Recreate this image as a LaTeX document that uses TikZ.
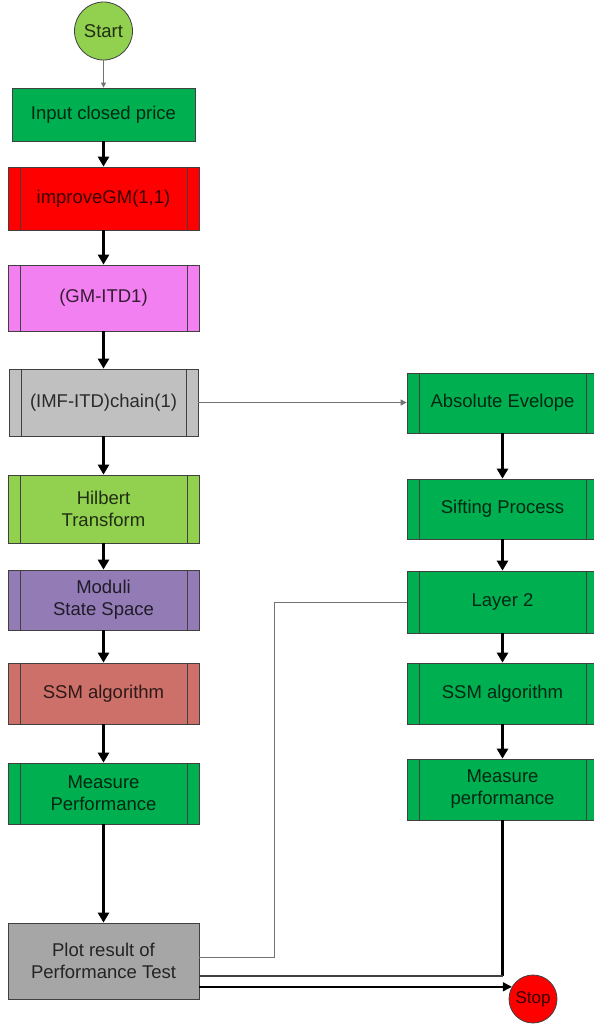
\documentclass[tikz,border=0pt]{standalone}
\usepackage{fontspec}
\setmainfont{Liberation Sans}
\usetikzlibrary{arrows.meta}
\definecolor{cgreen}{HTML}{00B050}
\definecolor{cred}{HTML}{FF0000}
\definecolor{cpink}{HTML}{F280F0}
\definecolor{cgray}{HTML}{C0C0C0}
\definecolor{clgreen}{HTML}{92D050}
\definecolor{cpurple}{HTML}{937CB5}
\definecolor{cssm}{HTML}{CD706A}
\definecolor{cplot}{HTML}{A6A6A6}
\tikzset{
  base/.style={draw=black!75, line width=0.8pt, minimum width=191pt, align=center,
    font=\fontsize{18.5}{22}\selectfont, inner sep=0pt, fill=#1, text=#1!22!black},
  proc/.style={base=#1, path picture={
    \draw[black!75, line width=0.8pt]
      ([xshift=12pt]path picture bounding box.north west) -- ([xshift=12pt]path picture bounding box.south west)
      ([xshift=-12pt]path picture bounding box.north east) -- ([xshift=-12pt]path picture bounding box.south east);}},
  term/.style={circle, draw=black!75, line width=0.8pt, fill=#1, text=#1!22!black, inner sep=0pt},
  flow/.style={line width=2.5pt, -{Triangle[width=11pt,length=10pt]}},
  link/.style={draw=black!55, line width=1pt},
}
\begin{document}
\begin{tikzpicture}[x=1pt,y=-1pt]
\useasboundingbox (0,0) rectangle (594,1026);
\clip (0,0) rectangle (594,1026);
\fill[white] (0,0) rectangle (594,1026);

% left column
\node[term=clgreen, minimum size=58pt, font=\fontsize{18.5}{22}\selectfont] (start) at (103.5,31) {Start};
\node[base=cgreen, minimum width=183pt, minimum height=53pt] (input) at (103.5,114.5) {Input closed price};
\node[proc=cred, minimum height=63pt] (improve) at (103.5,198.5) {improveGM(1,1)};
\node[proc=cpink, minimum height=66pt] (gmitd) at (103.5,298) {(GM-ITD1)};
\node[proc=cgray, minimum width=189pt, minimum height=67pt] (imf) at (103.5,402.5) {(IMF-ITD)chain(1)};
\node[proc=clgreen, minimum height=68pt] (hilbert) at (103.5,509) {Hilbert\\Transform};
\node[proc=cpurple, minimum height=60pt] (moduli) at (103.5,600) {Moduli\\State Space};
\node[proc=cssm, minimum height=61pt] (ssm) at (103.5,693.5) {SSM algorithm};
\node[proc=cgreen, minimum height=61pt] (measure) at (103.5,793.5) {Measure\\Performance};
\node[base=cplot, minimum height=76pt] (plot) at (103.5,961) {Plot result of\\Performance Test};

% right column
\node[proc=cgreen, minimum height=60pt] (abs) at (502.5,403) {Absolute Evelope};
\node[proc=cgreen, minimum height=60pt] (sift) at (502.5,509) {Sifting Process};
\node[proc=cgreen, minimum height=62pt] (layer) at (502.5,602) {Layer 2};
\node[proc=cgreen, minimum height=61pt] (ssmr) at (502.5,693.5) {SSM algorithm};
\node[proc=cgreen, minimum height=61pt] (measr) at (502.5,789.5) {Measure\\performance};

\node[term=cred, minimum size=48pt, font=\fontsize{17}{20}\selectfont] (stop) at (533,999) {Stop};

% connectors left
\draw[link, -{Triangle[width=5pt,length=5pt]}] (start) -- (input);
\draw[flow] (input) -- (improve);
\draw[flow] (improve) -- (gmitd);
\draw[flow] (gmitd) -- (imf);
\draw[flow] (imf) -- (hilbert);
\draw[flow] (hilbert) -- (moduli);
\draw[flow] (moduli) -- (ssm);
\draw[flow] (ssm) -- (measure);
\draw[flow] (measure) -- (plot);

% branch to right
\draw[link, -{Triangle[width=6pt,length=6pt]}] (imf.east) -- (abs.west |- imf.east);
\draw[flow] (abs) -- (sift);
\draw[flow] (sift) -- (layer);
\draw[flow] (layer) -- (ssmr);
\draw[flow] (ssmr) -- (measr);

% returns to plot
\coordinate (lcorner) at (274,957);
\draw[link] (layer.west) -| (lcorner) -- (plot.east |- lcorner);
\coordinate (rcorner) at (502.5,976);
\draw[line width=2.5pt] (measr.south) -- (rcorner);
\draw[draw=black!75, line width=1.2pt] (rcorner) -- (plot.east |- rcorner);
\draw[line width=1.5pt, -{Triangle[width=9pt,length=9pt]}] (plot.east |- stop.150) -- (stop.150);
\end{tikzpicture}
\end{document}
